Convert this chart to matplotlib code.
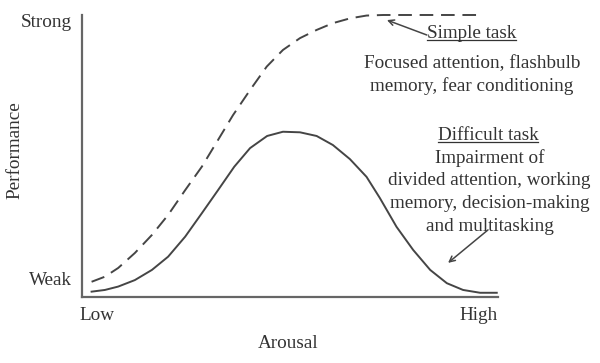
import matplotlib
matplotlib.use("Agg")
import matplotlib.pyplot as plt
from matplotlib.lines import Line2D

# arousal (0 = low, 1 = high) vs performance (0 = weak, 1 = strong)
simple_x = [0.023, 0.055, 0.087, 0.127, 0.168, 0.207, 0.248, 0.288, 0.327, 0.363,
            0.404, 0.444, 0.483, 0.524, 0.564, 0.603, 0.644, 0.684, 0.724, 0.957]
simple_y = [0.054, 0.072, 0.103, 0.156, 0.220, 0.291, 0.379, 0.462, 0.557, 0.645,
            0.734, 0.817, 0.876, 0.918, 0.947, 0.971, 0.988, 0.998, 1.000, 1.000]

difficult_x = [0.023, 0.055, 0.087, 0.127, 0.168, 0.207, 0.248, 0.288, 0.327, 0.366,
               0.404, 0.445, 0.483, 0.524, 0.564, 0.603, 0.644, 0.684, 0.716, 0.756,
               0.796, 0.837, 0.877, 0.916, 0.957, 0.997]
difficult_y = [0.019, 0.025, 0.037, 0.060, 0.096, 0.143, 0.214, 0.297, 0.379, 0.462,
               0.528, 0.571, 0.586, 0.584, 0.571, 0.539, 0.489, 0.426, 0.351, 0.249,
               0.167, 0.096, 0.049, 0.025, 0.015, 0.015]

plt.rcParams['font.family'] = ['Liberation Serif', 'DejaVu Serif']
txt = '#333333'
line_col = '#454545'
fs = 13.8

fig = plt.figure(figsize=(6, 3.63), dpi=100)
ax = fig.add_axes([0.1367, 0.1818, 0.6933, 0.7769])
ax.set_xlim(0, 1)
ax.set_ylim(0, 1)
for s in ['top', 'right']:
    ax.spines[s].set_visible(False)
for s in ['left', 'bottom']:
    ax.spines[s].set_color('#666666')
    ax.spines[s].set_linewidth(1.6)
ax.set_xticks([])
ax.set_yticks([])
ax.patch.set_alpha(0)

ax.plot(simple_x, simple_y, color=line_col, lw=1.4, dashes=(7, 4), clip_on=False,
        dash_joinstyle='round')
ax.plot(difficult_x, difficult_y, color=line_col, lw=1.4, clip_on=False,
        solid_joinstyle='round')

# axis labels
ax.text(-0.024, 0.975, 'Strong', ha='right', va='center', fontsize=fs, color=txt, transform=ax.transAxes)
ax.text(-0.024, 0.057, 'Weak', ha='right', va='center', fontsize=fs, color=txt, transform=ax.transAxes)
ax.text(-0.005, -0.065, 'Low', ha='left', va='center', fontsize=fs, color=txt, transform=ax.transAxes)
ax.text(1.0, -0.065, 'High', ha='right', va='center', fontsize=fs, color=txt, transform=ax.transAxes)
ax.text(0.495, -0.165, 'Arousal', ha='center', va='center', fontsize=fs, color=txt, transform=ax.transAxes)
ax.text(-0.16, 0.52, 'Performance', ha='center', va='center', rotation=90, fontsize=fs,
        color=txt, transform=ax.transAxes)

# annotations
t1 = ax.text(0.937, 0.933, 'Simple task', ha='center', va='center', fontsize=fs, color=txt)
ax.text(0.937, 0.828, 'Focused attention, flashbulb', ha='center', va='center', fontsize=fs, color=txt)
ax.text(0.937, 0.748, 'memory, fear conditioning', ha='center', va='center', fontsize=fs, color=txt)
t2 = ax.text(0.976, 0.571, 'Difficult task', ha='center', va='center', fontsize=fs, color=txt)
lines2 = ['Impairment of', 'divided attention, working', 'memory, decision-making', 'and multitasking']
for i, s in enumerate(lines2):
    ax.text(0.98, 0.493 - i * 0.081, s, ha='center', va='center', fontsize=fs, color=txt)

ax.annotate('', xy=(0.733, 0.982), xytext=(0.829, 0.929),
            arrowprops=dict(arrowstyle='->', color=line_col, lw=1.1, shrinkA=0, shrinkB=0))
ax.annotate('', xy=(0.880, 0.121), xytext=(0.976, 0.238),
            arrowprops=dict(arrowstyle='->', color=line_col, lw=1.1, shrinkA=0, shrinkB=0))

# underline the two headings
fig.canvas.draw()
inv = fig.transFigure.inverted()
for t in (t1, t2):
    bb = t.get_window_extent().transformed(inv)
    fig.add_artist(Line2D([bb.x0, bb.x1], [bb.y0 + 0.006, bb.y0 + 0.006], color=txt, lw=0.9))

fig.savefig('out.png', dpi=100)
